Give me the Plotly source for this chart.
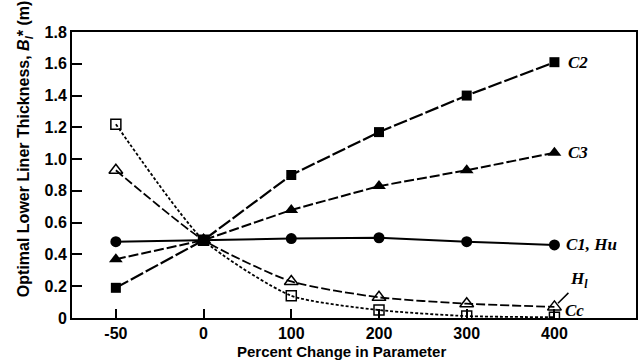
import plotly.graph_objects as go

categories = ["-50", "0", "100", "200", "300", "400"]
c2 = [0.19, 0.49, 0.90, 1.17, 1.40, 1.61]
c3 = [0.37, 0.49, 0.68, 0.83, 0.93, 1.04]
c1hu = [0.48, 0.49, 0.50, 0.505, 0.48, 0.46]
hl = [0.93, 0.49, 0.23, 0.13, 0.09, 0.07]
cc = [1.22, 0.49, 0.14, 0.05, 0.012, 0.005]
yticks = [0, 0.2, 0.4, 0.6, 0.8, 1.0, 1.2, 1.4, 1.6, 1.8]
yticktext = ["0", "0.2", "0.4", "0.6", "0.8", "1.0", "1.2", "1.4", "1.6", "1.8"]

fig = go.Figure()
black = "black"
fig.add_trace(go.Scatter(x=categories, y=cc, mode="lines+markers",
                         line=dict(color=black, width=1.8, dash="3px,2px", shape="spline", smoothing=0.6),
                         marker=dict(symbol="square-open", size=10, color=black, line=dict(width=1.5))))
fig.add_trace(go.Scatter(x=categories, y=hl, mode="lines+markers",
                         line=dict(color=black, width=1.8, dash="9px,3px", shape="spline", smoothing=0.6),
                         marker=dict(symbol="triangle-up-open", size=12, color=black, line=dict(width=1.5))))
fig.add_trace(go.Scatter(x=categories, y=c1hu, mode="lines+markers", line=dict(color=black, width=2),
                         marker=dict(symbol="circle", size=11, color=black)))
fig.add_trace(go.Scatter(x=categories, y=c3, mode="lines+markers", line=dict(color=black, width=2, dash="10px,3px"),
                         marker=dict(symbol="triangle-up", size=12, color=black)))
fig.add_trace(go.Scatter(x=categories, y=c2, mode="lines+markers", line=dict(color=black, width=2.2, dash="14px,3px"),
                         marker=dict(symbol="square", size=10, color=black)))

last = len(categories) - 1
lab_font = dict(family="Liberation Serif, Times New Roman, serif", size=17, color=black)
def lab(y, text, xshift=12, yshift=0):
    fig.add_annotation(x=last, y=y, xref="x", yref="y", text=text, showarrow=False, xanchor="left",
                       xshift=xshift, yshift=yshift, font=lab_font)
lab(c2[-1], "<b><i>C2</i></b>", xshift=12)
lab(c3[-1], "<b><i>C3</i></b>", xshift=12)
lab(c1hu[-1], "<b><i>C1, Hu</i></b>", xshift=10)
lab(cc[-1], "<b><i>Cc</i></b>", xshift=9, yshift=7)
fig.add_annotation(x=last, y=hl[-1], xref="x", yref="y", text="<b><i>H<sub>l</sub></i></b>", showarrow=True,
                   arrowhead=0, arrowwidth=1.5, arrowcolor=black, ax=14, ay=-14, xanchor="left", yanchor="bottom",
                   standoff=5, font=lab_font)

sans = "Liberation Sans, Arial, sans-serif"
fig.update_layout(
    width=643, height=361, margin=dict(l=72, r=5, t=32, b=43),
    paper_bgcolor="white", plot_bgcolor="white", showlegend=False,
    font=dict(family=sans, size=16, color=black),
)
fig.update_xaxes(type="category", range=[-0.5, 5.93], showline=True, linecolor=black, linewidth=2, mirror=True,
                 ticks="inside", ticklen=9, tickwidth=2, tickcolor=black, showgrid=False, zeroline=False,
                 tickfont=dict(family=sans, size=16, color=black),
                 ticktext=["<b>%s</b>" % c for c in categories], tickvals=categories)
fig.update_yaxes(range=[0, 1.8], showline=True, linecolor=black, linewidth=2, mirror=True,
                 ticks="inside", ticklen=10, tickwidth=2, tickcolor=black, showgrid=False, zeroline=False,
                 tickvals=yticks, ticktext=["<b>%s</b>" % t for t in yticktext],
                 tickfont=dict(family=sans, size=16, color=black))

# axis titles placed as annotations to match the reference positions
plot_w = 643 - 72 - 5
plot_h = 361 - 32 - 43
fig.add_annotation(xref="paper", yref="paper", x=(24 - 72) / plot_w, y=(318 - 149) / plot_h,
                   text="<b>Optimal Lower Liner Thickness, <i>B<sub>l</sub></i>* (m)</b>", textangle=-90,
                   showarrow=False, xanchor="center", yanchor="middle",
                   font=dict(family=sans, size=16, color=black))
fig.add_annotation(xref="paper", yref="paper", x=(342 - 72) / plot_w, y=-(351 - 318) / plot_h,
                   text="<b>Percent Change in Parameter</b>",
                   showarrow=False, xanchor="center", yanchor="middle",
                   font=dict(family=sans, size=15, color=black))
fig.write_html("out.html")
